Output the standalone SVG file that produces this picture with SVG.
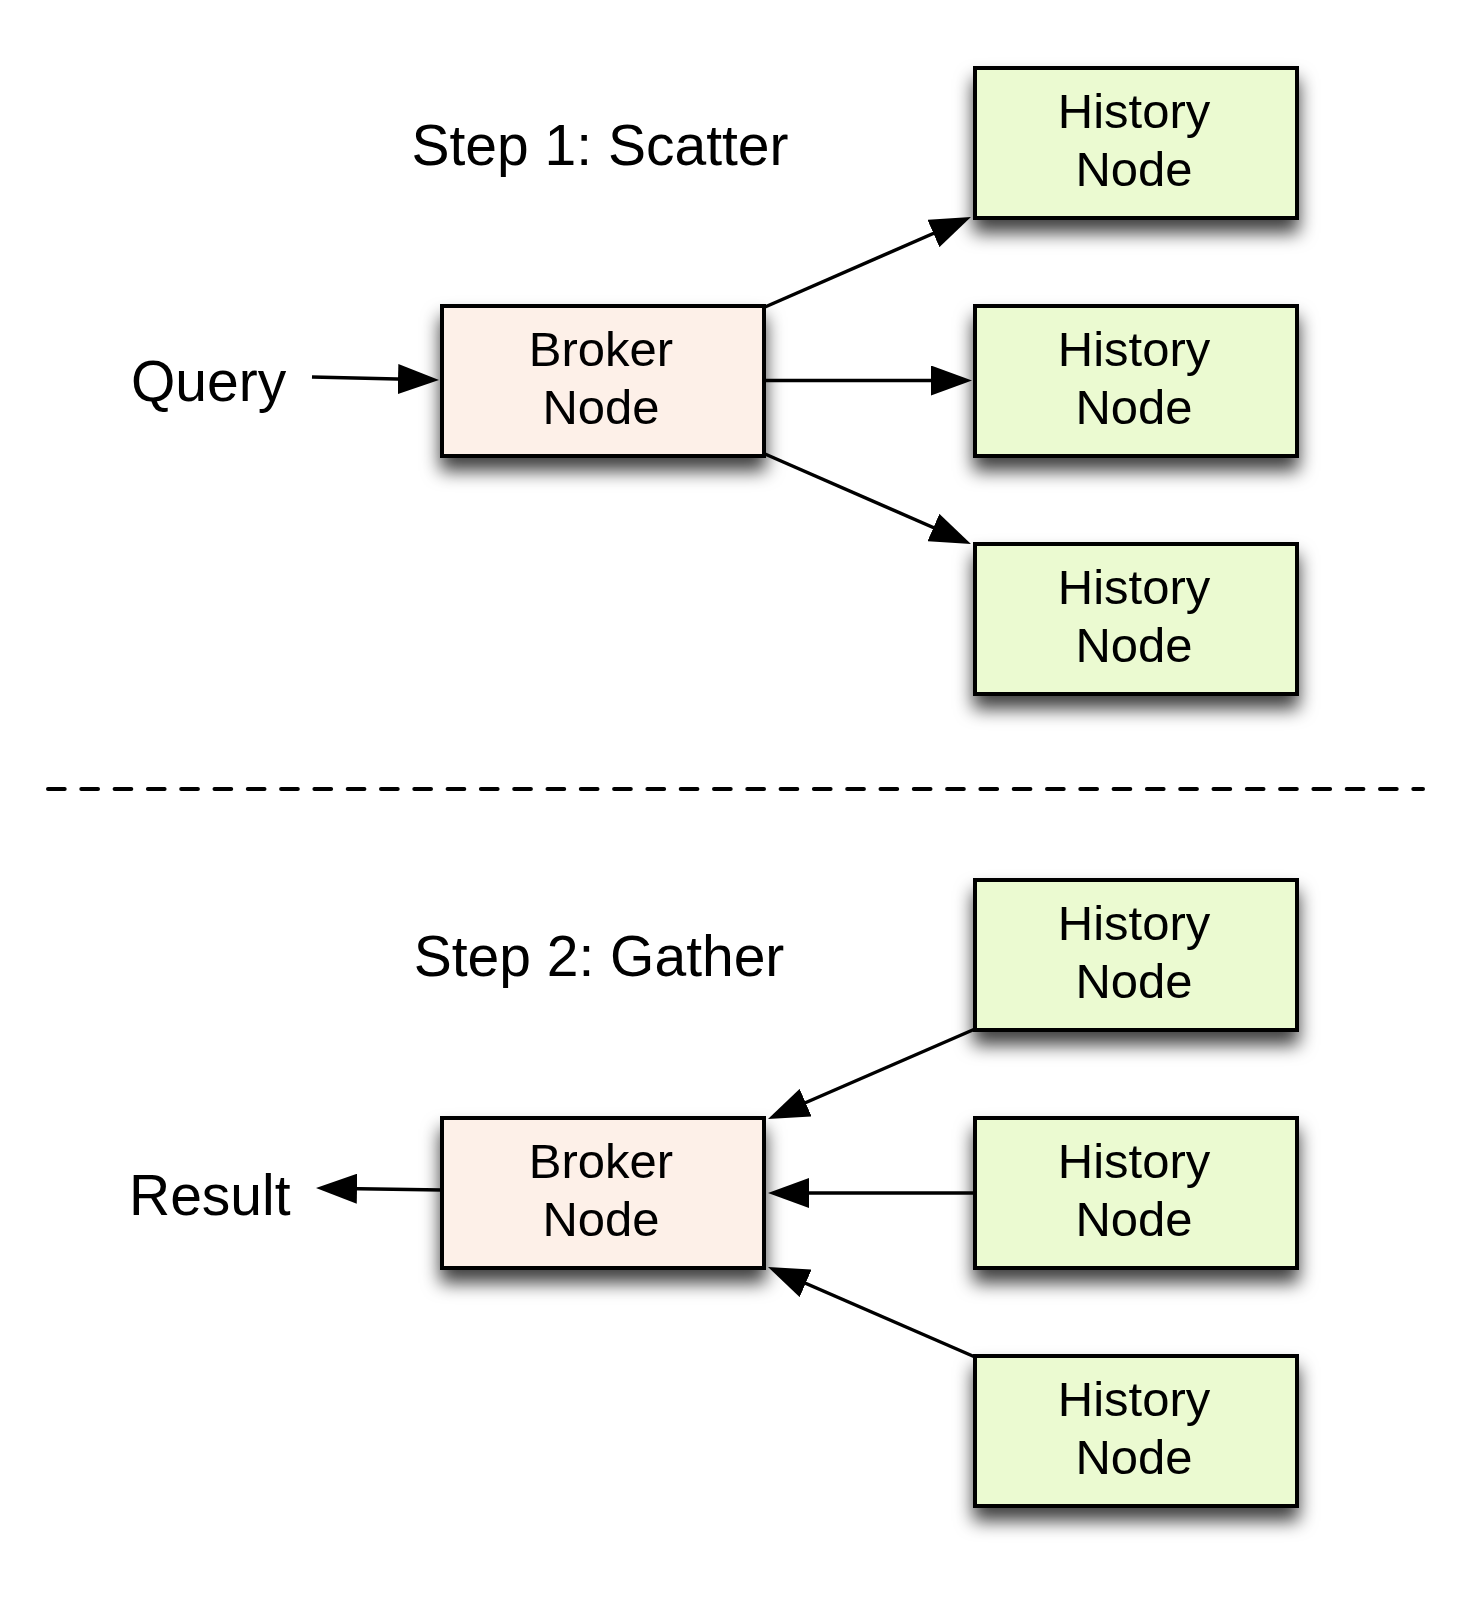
<svg xmlns="http://www.w3.org/2000/svg" width="1466" height="1604" viewBox="0 0 1466 1604">
<style>
.box{stroke:#000;stroke-width:4;filter:url(#sh)}
.hist{fill:#EBFAD1}
.brok{fill:#FDF0E8}
.lbl{font-family:"Liberation Sans",Arial,sans-serif;fill:#000}
.nt{font-size:49px;text-anchor:middle}
.big{font-size:57px}
.conn{stroke:#000;stroke-width:3.5;fill:none;marker-end:url(#ah)}
</style>
<defs>
<filter id="sh" x="-20%" y="-20%" width="140%" height="170%">
<feDropShadow dx="0" dy="13" stdDeviation="9" flood-color="#000" flood-opacity="0.75"/>
</filter>
<marker id="ah" markerUnits="userSpaceOnUse" markerWidth="42" markerHeight="30" refX="31" refY="15" orient="auto" viewBox="0 0 42 30">
<path d="M0,0 L41,15 L0,30 z" fill="#000"/>
</marker>
</defs>
<rect width="1466" height="1604" fill="#fff"/>

<text class="lbl big" x="600" y="165" text-anchor="middle">Step 1: Scatter</text>
<text class="lbl big" x="599" y="976" text-anchor="middle">Step 2: Gather</text>
<text class="lbl big" x="131" y="401">Query</text>
<text class="lbl big" x="129" y="1215">Result</text>

<line x1="48" y1="789" x2="1423" y2="789" stroke="#000" stroke-width="4" stroke-linecap="round" stroke-dasharray="16.7 16.6"/>

<g id="broker1">
<rect class="box brok" x="442" y="306" width="322" height="150"/>
<text class="lbl nt" x="601" y="366">Broker</text>
<text class="lbl nt" x="601" y="424">Node</text>
</g>
<g id="hist1a">
<rect class="box hist" x="975" y="68" width="322" height="150"/>
<text class="lbl nt" x="1134" y="128">History</text>
<text class="lbl nt" x="1134" y="186">Node</text>
</g>
<g id="hist1b">
<rect class="box hist" x="975" y="306" width="322" height="150"/>
<text class="lbl nt" x="1134" y="366">History</text>
<text class="lbl nt" x="1134" y="424">Node</text>
</g>
<g id="hist1c">
<rect class="box hist" x="975" y="544" width="322" height="150"/>
<text class="lbl nt" x="1134" y="604">History</text>
<text class="lbl nt" x="1134" y="662">Node</text>
</g>

<g id="broker2">
<rect class="box brok" x="442" y="1118" width="322" height="150"/>
<text class="lbl nt" x="601" y="1178">Broker</text>
<text class="lbl nt" x="601" y="1236">Node</text>
</g>
<g id="hist2a">
<rect class="box hist" x="975" y="880" width="322" height="150"/>
<text class="lbl nt" x="1134" y="940">History</text>
<text class="lbl nt" x="1134" y="998">Node</text>
</g>
<g id="hist2b">
<rect class="box hist" x="975" y="1118" width="322" height="150"/>
<text class="lbl nt" x="1134" y="1178">History</text>
<text class="lbl nt" x="1134" y="1236">Node</text>
</g>
<g id="hist2c">
<rect class="box hist" x="975" y="1356" width="322" height="150"/>
<text class="lbl nt" x="1134" y="1416">History</text>
<text class="lbl nt" x="1134" y="1474">Node</text>
</g>

<g id="connectors">
<line class="conn" x1="312" y1="377" x2="429" y2="379.8"/>
<line class="conn" x1="765" y1="307" x2="961.8" y2="221"/>
<line class="conn" x1="765" y1="380.5" x2="962" y2="380.5"/>
<line class="conn" x1="765" y1="454" x2="961.8" y2="540"/>
<line class="conn" x1="975" y1="1029" x2="777.2" y2="1115"/>
<line class="conn" x1="975" y1="1193" x2="778" y2="1193"/>
<line class="conn" x1="975" y1="1357" x2="777.2" y2="1271"/>
<line class="conn" x1="442" y1="1190" x2="326" y2="1188.2"/>
</g>
</svg>
